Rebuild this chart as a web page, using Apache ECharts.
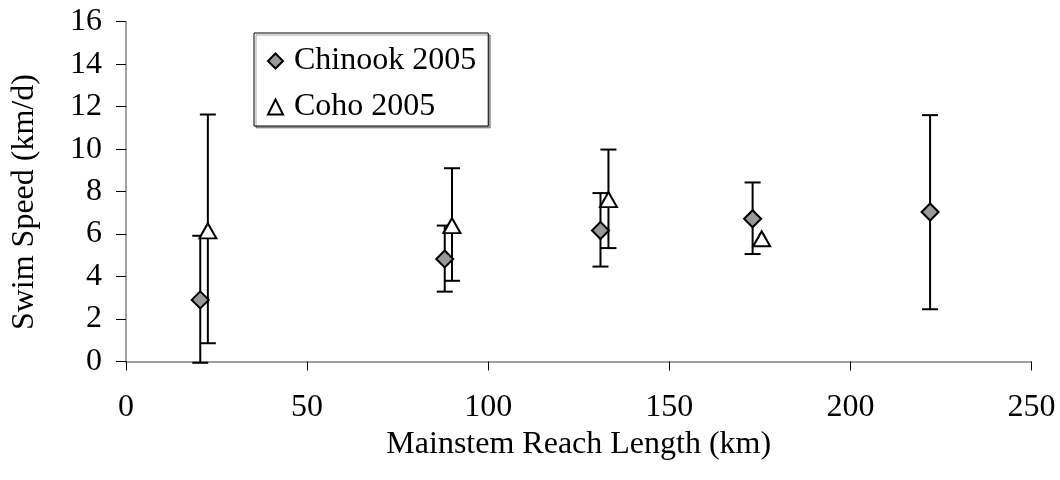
<!DOCTYPE html>
<html>
<head>
<meta charset="utf-8">
<script src="https://cdn.jsdelivr.net/npm/echarts@6/dist/echarts.min.js"></script>
<style>html,body{margin:0;padding:0;background:#fff;}#c{width:1060px;height:480px;}</style>
</head>
<body>
<div id="c"></div>
<script>
var chinookX = [20.5, 88, 131, 173, 222];
var chinookY = [2.9, 4.83, 6.17, 6.72, 7.04];
var chinookLow = [-0.06, 3.29, 4.47, 5.06, 2.46];
var chinookHigh = [5.92, 6.4, 7.93, 8.43, 11.6];
var cohoX = [22.6, 90, 133.2, 175.5];
var cohoY = [6.15, 6.4, 7.62, 5.78];
var cohoLow = [0.86, 3.8, 5.34, null];
var cohoHigh = [11.63, 9.1, 9.98, null];
var xTicks = [0, 50, 100, 150, 200, 250];
var yTicks = [0, 2, 4, 6, 8, 10, 12, 14, 16];

var FONT = 'Liberation Serif';
var FS = 32;
function pts(xs, ys) { return xs.map(function (x, i) { return [x, ys[i]]; }); }
function bars(xs, lo, hi) {
  var out = [];
  xs.forEach(function (x, i) { if (lo[i] != null) out.push([x, lo[i], hi[i]]); });
  return out;
}
function renderBar(params, api) {
  var x = api.value(0);
  var lo = api.coord([x, api.value(1)]);
  var hi = api.coord([x, api.value(2)]);
  var hw = 8;
  var st = { stroke: '#000', lineWidth: 2 };
  return {
    type: 'group',
    children: [
      { type: 'line', shape: { x1: lo[0], y1: lo[1], x2: hi[0], y2: hi[1] }, style: st },
      { type: 'line', shape: { x1: lo[0] - hw, y1: lo[1], x2: lo[0] + hw, y2: lo[1] }, style: st },
      { type: 'line', shape: { x1: hi[0] - hw, y1: hi[1], x2: hi[0] + hw, y2: hi[1] }, style: st }
    ]
  };
}
var chart = echarts.init(document.getElementById('c'));
chart.setOption({
  animation: false,
  backgroundColor: '#fff',
  grid: { left: 126, right: 28.5, top: 21.7, bottom: 118.5 },
  legend: {
    orient: 'vertical', left: 254, top: 33,
    data: ['Chinook 2005', 'Coho 2005'],
    borderColor: '#000', borderWidth: 1,
    padding: [12, 12, 3, 13],
    itemGap: 14, itemWidth: 15, itemHeight: 15,
    textStyle: { fontFamily: FONT, fontSize: FS, color: '#000', padding: [0, 0, 0, 6] },
    shadowColor: 'rgba(0,0,0,0.35)', shadowOffsetX: 2, shadowOffsetY: 2, shadowBlur: 0,
    backgroundColor: '#fff'
  },
  xAxis: {
    type: 'value', min: 0, max: 250, interval: 50,
    name: 'Mainstem Reach Length (km)', nameLocation: 'middle', nameGap: 63,
    nameTextStyle: { fontFamily: FONT, fontSize: FS, color: '#000' },
    axisLine: { lineStyle: { color: '#808080', width: 1.5 } },
    axisTick: { show: true, length: 9, lineStyle: { color: '#000' } },
    axisLabel: { fontFamily: FONT, fontSize: FS, color: '#000', margin: 30,
      formatter: function (v) { return xTicks.indexOf(v) >= 0 ? String(v) : ''; } },
    splitLine: { show: false }
  },
  yAxis: {
    type: 'value', min: 0, max: 16, interval: 2,
    name: 'Swim Speed (km/d)', nameLocation: 'middle', nameGap: 85, nameRotate: 90,
    nameTextStyle: { fontFamily: FONT, fontSize: FS, color: '#000', padding: [0, 21, 0, 0] },
    axisLine: { show: true, lineStyle: { color: '#808080', width: 1.5 } },
    axisTick: { show: true, length: 10, lineStyle: { color: '#000' } },
    axisLabel: { fontFamily: FONT, fontSize: FS, color: '#000', margin: 24,
      formatter: function (v) { return yTicks.indexOf(v) >= 0 ? String(v) : ''; } },
    splitLine: { show: false }
  },
  series: [
    { type: 'custom', name: 'chinookErr', renderItem: renderBar, data: bars(chinookX, chinookLow, chinookHigh), z: 1, silent: true, clip: false },
    { type: 'custom', name: 'cohoErr', renderItem: renderBar, data: bars(cohoX, cohoLow, cohoHigh), z: 1, silent: true, clip: false },
    { type: 'scatter', name: 'Chinook 2005', data: pts(chinookX, chinookY), symbol: 'diamond', symbolSize: 17,
      itemStyle: { color: '#999999', borderColor: '#000', borderWidth: 2, opacity: 1 }, z: 3 },
    { type: 'scatter', name: 'Coho 2005', data: pts(cohoX, cohoY), symbol: 'triangle', symbolSize: [17, 15],
      itemStyle: { color: '#ffffff', borderColor: '#000', borderWidth: 2, opacity: 1 }, z: 4 }
  ]
});
</script>
</body>
</html>
